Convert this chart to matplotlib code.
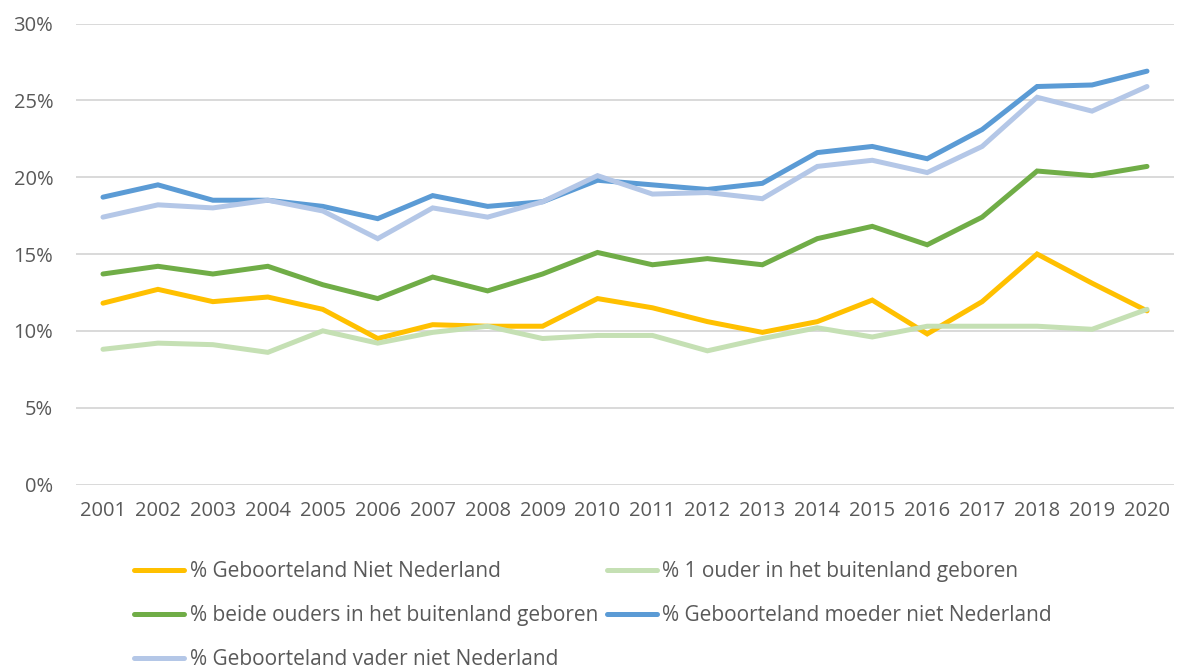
import numpy as np
import matplotlib
matplotlib.use('Agg')
import matplotlib.pyplot as plt
from matplotlib.ticker import FuncFormatter

## Data ##
years = [str(y) for y in range(2001, 2021)]
niet_nl = [11.8, 12.7, 11.9, 12.2, 11.4, 9.5, 10.4, 10.3, 10.3, 12.1,
           11.5, 10.6, 9.9, 10.6, 12.0, 9.8, 11.9, 15.0, 13.1, 11.3]
een_ouder = [8.8, 9.2, 9.1, 8.6, 10.0, 9.2, 9.9, 10.3, 9.5, 9.7,
             9.7, 8.7, 9.5, 10.2, 9.6, 10.3, 10.3, 10.3, 10.1, 11.4]
beide_ouders = [13.7, 14.2, 13.7, 14.2, 13.0, 12.1, 13.5, 12.6, 13.7, 15.1,
                14.3, 14.7, 14.3, 16.0, 16.8, 15.6, 17.4, 20.4, 20.1, 20.7]
moeder = [18.7, 19.5, 18.5, 18.5, 18.1, 17.3, 18.8, 18.1, 18.4, 19.8,
          19.5, 19.2, 19.6, 21.6, 22.0, 21.2, 23.1, 25.9, 26.0, 26.9]
vader = [17.4, 18.2, 18.0, 18.5, 17.8, 16.0, 18.0, 17.4, 18.4, 20.1,
         18.9, 19.0, 18.6, 20.7, 21.1, 20.3, 22.0, 25.2, 24.3, 25.9]

labels = ['% Geboorteland Niet Nederland',
          '% 1 ouder in het buitenland geboren',
          '% beide ouders in het buitenland geboren',
          '% Geboorteland moeder niet Nederland',
          '% Geboorteland vader niet Nederland']
series = [niet_nl, een_ouder, beide_ouders, moeder, vader]
colors = ['#FFC000', '#C5E0B4', '#70AD47', '#5B9BD5', '#B4C7E7']

## Style ##
plt.rcParams['font.family'] = ['Open Sans', 'DejaVu Sans']
txtcol = '#595959'

fig = plt.figure(figsize=(11.78, 6.68), dpi=100)
ax = fig.add_axes([0.0641, 0.2747, 0.9329, 0.6901])

x = np.arange(len(years))
lines = []
for s, c, lab in zip(series, colors, labels):
  ln, = ax.plot(x, s, color=c, lw=3.6, label=lab, solid_capstyle='round',
                solid_joinstyle='miter')
  lines.append(ln)

ax.set_xlim(-0.5, len(years) - 0.5)
ax.set_ylim(0, 30)
ax.set_yticks(np.arange(0, 31, 5))
ax.yaxis.set_major_formatter(FuncFormatter(lambda v, p: '%d%%' % v))
ax.set_xticks(x)
ax.set_xticklabels(years)
ax.grid(axis='y', color='#D9D9D9', lw=1.4)
ax.set_axisbelow(True)
for sp in ax.spines.values():
  sp.set_visible(False)
ax.tick_params(length=0, labelsize=14.5, colors=txtcol)
ax.tick_params(axis='y', pad=16)
ax.tick_params(axis='x', pad=12)

## Legend (row-wise order like Excel) ##
order = [0, 2, 4, 1, 3]
leg = fig.legend([lines[i] for i in order], [labels[i] for i in order],
                 ncol=2, loc='upper left', bbox_to_anchor=(0.114, 0.1595),
                 frameon=False, fontsize=15, handlelength=2.4,
                 handletextpad=0.25, columnspacing=0.45, labelspacing=1.1,
                 borderpad=0, borderaxespad=0)
for t in leg.get_texts():
  t.set_color(txtcol)

fig.savefig('out.png', dpi=100)
